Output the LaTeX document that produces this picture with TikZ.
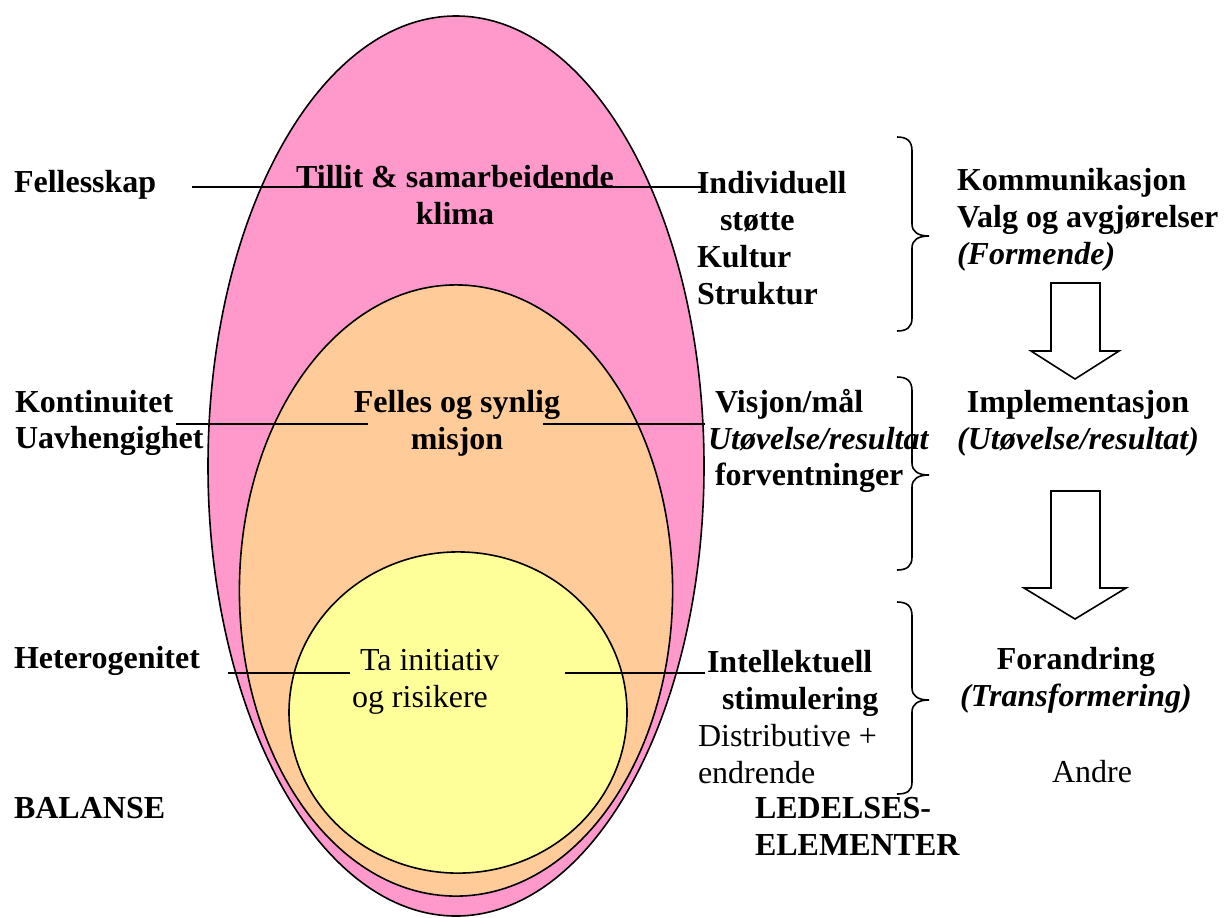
\documentclass[tikz,border=0pt]{standalone}
\usepackage{fontspec}
\setmainfont{Liberation Serif}
\definecolor{pinkfill}{HTML}{FF99CC}
\definecolor{orangefill}{HTML}{FFCC99}
\definecolor{yellowfill}{HTML}{FFFF99}
\begin{document}
\begin{tikzpicture}[x=0.5pt,y=-0.5pt,
  every node/.style={inner sep=0pt, outer sep=0pt, font=\fontsize{16}{18.4}\selectfont},
  boldtxt/.style={font=\fontsize{16}{18.4}\selectfont\bfseries, align=left},
  plaintxt/.style={font=\fontsize{16}{18.4}\selectfont, align=left},
  layer/.style={draw=black, line width=0.8pt},
  leader/.style={draw=black, line width=0.7pt},
  bracket/.style={draw=black, line width=0.8pt},
  blockarrow/.style={draw=black, fill=white, line width=0.8pt, line join=miter}]

% canvas
\path[use as bounding box, fill=white] (0,0) rectangle (1224,917);

% nested layers
\coordinate (outerc) at (456,466);
\coordinate (midc) at (456,590.5);
\coordinate (innerc) at (458,712.5);
\fill[pinkfill] (outerc) ellipse [x radius=124pt, y radius=225pt];
\draw[layer] (outerc) ellipse [x radius=124pt, y radius=225pt];
\fill[orangefill] (midc) ellipse [x radius=108.3pt, y radius=152.8pt];
\draw[layer] (midc) ellipse [x radius=108.3pt, y radius=152.8pt];
\fill[yellowfill] (innerc) ellipse [x radius=84.5pt, y radius=80.3pt];
\draw[layer] (innerc) ellipse [x radius=84.5pt, y radius=80.3pt];

% leader lines
\coordinate (a1) at (192,187); \coordinate (a2) at (351,187);
\coordinate (a3) at (537,187); \coordinate (a4) at (701,187);
\coordinate (b1) at (176,424); \coordinate (b2) at (368,424);
\coordinate (b3) at (543,424); \coordinate (b4) at (705,424);
\coordinate (c1) at (228,673); \coordinate (c2) at (350,673);
\coordinate (c3) at (565,673); \coordinate (c4) at (705,673);
\draw[leader] (a1) -- (a2);
\draw[leader] (a3) -- (a4);
\draw[leader] (b1) -- (b2);
\draw[leader] (b3) -- (b4);
\draw[leader] (c1) -- (c2);
\draw[leader] (c3) -- (c4);

% left column
\node[boldtxt, anchor=west] (fellesskap) at (14,185) {Fellesskap};
\node[boldtxt, anchor=west] (kontinuitet) at (15,423) {Kontinuitet\\Uavhengighet};
\node[boldtxt, anchor=west] (hetero) at (14,661) {Heterogenitet};
\node[boldtxt, anchor=west] (balanse) at (14,808) {BALANSE};

% texts inside the layers
\node[boldtxt, align=center] (tillit) at (455,195) {Tillit \& samarbeidende\\klima};
\node[boldtxt, align=center] (felles) at (457,423) {Felles og synlig\\misjon};
\node[plaintxt, anchor=west] (initiativ) at (352,682) {\hspace{4pt}Ta initiativ\\og risikere};

% leadership elements
\node[boldtxt, anchor=west] (individuell) at (697,238) {Individuell\\\hspace{11.5pt}støtte\\Kultur\\Struktur};
\node[boldtxt, anchor=west] (visjon) at (708,441) {\hspace{3.5pt}Visjon/mål\\\textit{Utøvelse/resultat}\\\hspace{3.5pt}forventninger};
\node[plaintxt, anchor=west] (intellektuell) at (698,717) {\hspace{4.5pt}\textbf{Intellektuell}\\\hspace{12pt}\textbf{stimulering}\\Distributive +\\endrende};
\node[boldtxt, anchor=west] (ledelses) at (755,826) {LEDELSES-\\ELEMENTER};

% brackets
\draw[bracket] (897,137) .. controls (907,137) and (912,141) .. (912,151)
  -- (912,224) .. controls (912,232) and (918,236) .. (929,236)
  .. controls (918,236) and (912,240) .. (912,248)
  -- (912,318) .. controls (912,327) and (907,331) .. (897,331);
\draw[bracket] (897,377) .. controls (907,377) and (912,381) .. (912,391)
  -- (912,463) .. controls (912,471) and (918,475) .. (929,475)
  .. controls (918,475) and (912,479) .. (912,487)
  -- (912,557) .. controls (912,566) and (907,570) .. (897,570);
\draw[bracket] (897,602) .. controls (907,602) and (912,606) .. (912,616)
  -- (912,688) .. controls (912,696) and (918,700) .. (929,700)
  .. controls (918,700) and (912,704) .. (912,712)
  -- (912,782) .. controls (912,791) and (907,794) .. (897,794);

% processes
\node[boldtxt, anchor=west] (kommunikasjon) at (957,220) {Kommunikasjon\\Valg og avgjørelser\\\textit{(Formende)}};
\node[boldtxt, align=center] (implementasjon) at (1078,423) {Implementasjon\\\textit{(Utøvelse/resultat)}};
\node[boldtxt, align=center] (forandring) at (1076,680) {Forandring\\\textit{(Transformering)}};
\node[plaintxt] (andre) at (1092,772) {Andre};

% block arrows between the processes
\draw[blockarrow] (1051,283) -- (1100,283) -- (1100,351) -- (1119,351) -- (1075,379)
  -- (1031,351) -- (1051,351) -- cycle;
\draw[blockarrow] (1051,491) -- (1100,491) -- (1100,588) -- (1126,588) -- (1075,619)
  -- (1024,588) -- (1051,588) -- cycle;

\end{tikzpicture}
\end{document}
